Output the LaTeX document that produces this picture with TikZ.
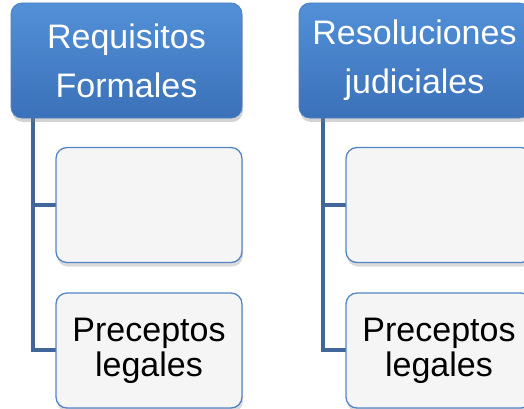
\documentclass[tikz,border=0pt]{standalone}
\usepackage{fontspec}
\setmainfont{Liberation Sans}
\usetikzlibrary{calc,positioning,shadows}
\definecolor{hdrtop}{HTML}{5290D8}
\definecolor{hdrbot}{HTML}{3B71B8}
\definecolor{hdrline}{HTML}{4A7FC2}
\definecolor{subfill}{HTML}{F5F5F5}
\definecolor{subline}{HTML}{5585C4}
\definecolor{trunkcol}{HTML}{41679A}

\begin{document}
\begin{tikzpicture}[x=1pt,y=-1pt,
  header/.style={draw=hdrline,line width=0.8pt,rounded corners=11pt,
    top color=hdrtop,bottom color=hdrbot,text=white,
    minimum width=231pt,minimum height=115pt,align=center,
    font=\fontsize{34}{49}\selectfont,
    drop shadow={opacity=0.35,shadow xshift=1pt,shadow yshift=-4pt}},
  subbox/.style={draw=subline,line width=1.3pt,rounded corners=11pt,
    fill=subfill,text=black,
    minimum width=186pt,minimum height=115pt,align=center,
    font=\fontsize{34}{35}\selectfont,
    drop shadow={opacity=0.3,shadow xshift=1pt,shadow yshift=-4pt}},
  trunk/.style={draw=trunkcol,line width=4pt}]
  \useasboundingbox (0,0) rectangle (524,409);
  \clip (0,0) rectangle (524,409);
  % left column
  \coordinate (trunkL) at (33,118);
  \draw[trunk] (trunkL) |- (56,205);
  \draw[trunk] (trunkL) |- (56,350);
  \node[header] (hdrL) at (126.5,60.5) {Requisitos\\Formales};
  \node[subbox] (subL1) at (149,205) {};
  \node[subbox] (subL2) at (149,350.5) {Preceptos\\legales};
  % right column
  \coordinate (trunkR) at (323,118);
  \draw[trunk] (trunkR) |- (346,205);
  \draw[trunk] (trunkR) |- (346,350);
  \node[header] (hdrR) at (414.5,60.5) {Resoluciones\\judiciales};
  \node[subbox] (subR1) at (439,205) {};
  \node[subbox] (subR2) at (439,350.5) {Preceptos\\legales};
\end{tikzpicture}
\end{document}
